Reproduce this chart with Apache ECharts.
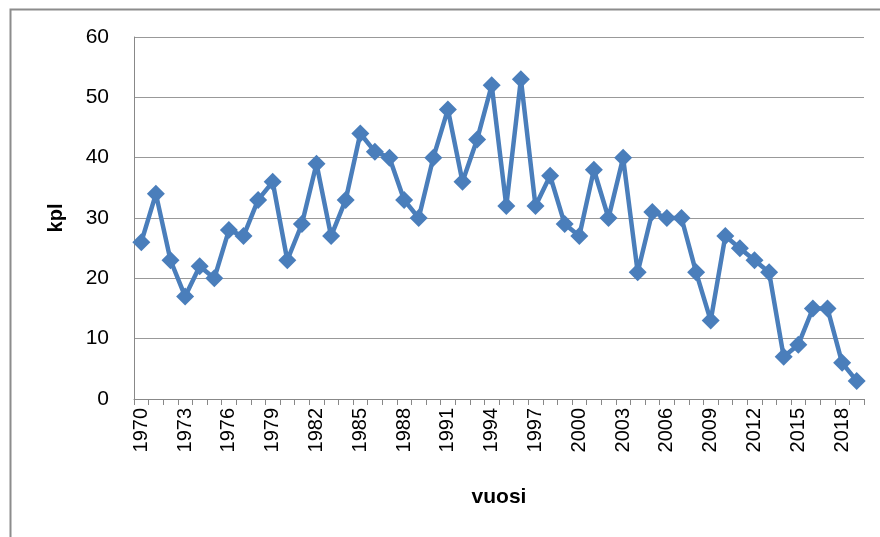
<!DOCTYPE html>
<html><head><meta charset="utf-8">
<script src="https://cdn.jsdelivr.net/npm/echarts@6/dist/echarts.min.js"></script>
<style>html,body{margin:0;padding:0;background:#fff}#c{width:880px;height:537px}</style>
</head><body><div id="c"></div>
<script>
const years = [];
for (let y = 1970; y <= 2019; y++) years.push(String(y));
const values = [26,34,23,17,22,20,28,27,33,36,23,29,39,27,33,44,41,40,33,30,40,48,36,43,52,32,53,32,37,29,27,38,30,40,21,31,30,30,21,13,27,25,23,21,7,9,15,15,6,3];
const yTicks = [0,10,20,30,40,50,60];
const xName = 'vuosi', yName = 'kpl';

const chart = echarts.init(document.getElementById('c'), null, {renderer: 'canvas'});
chart.setOption({
  animation: false,
  backgroundColor: '#fff',
  graphic: [{
    type: 'rect', left: 8, top: 7, shape: {x: 0, y: 0, width: 890, height: 560},
    style: {fill: 'none', stroke: '#8c8c8c', lineWidth: 2}, silent: true
  }],
  grid: {left: 134, right: 16, top: 37, bottom: 138, containLabel: false},
  xAxis: {
    type: 'category', data: years, boundaryGap: true,
    name: xName, nameLocation: 'middle', nameGap: 88,
    nameTextStyle: {fontFamily: 'Liberation Sans', fontWeight: 'bold', fontSize: 21, color: '#000'},
    axisLine: {lineStyle: {color: '#888', width: 1}},
    axisTick: {show: true, interval: 0, length: 6, lineStyle: {color: '#888'}},
    axisLabel: {interval: 2, rotate: 90, fontFamily: 'Liberation Sans', fontSize: 20, color: '#000', margin: 9},
    splitLine: {show: false}
  },
  yAxis: {
    type: 'value', min: yTicks[0], max: yTicks[yTicks.length-1], interval: 10,
    name: yName, nameLocation: 'middle', nameGap: 68, nameRotate: 90,
    nameTextStyle: {fontFamily: 'Liberation Sans', fontWeight: 'bold', fontSize: 20, color: '#000'},
    axisLine: {show: true, lineStyle: {color: '#888', width: 1}},
    axisTick: {show: false},
    axisLabel: {fontFamily: 'Liberation Sans', fontSize: 21, color: '#000', margin: 25},
    splitLine: {lineStyle: {color: '#999', width: 1}}
  },
  series: [{
    type: 'line', data: values,
    symbol: 'diamond', symbolSize: 18, showAllSymbol: true,
    lineStyle: {color: '#4a7ebb', width: 4.5},
    itemStyle: {color: '#4a7ebb'}
  }]
});
</script></body></html>
